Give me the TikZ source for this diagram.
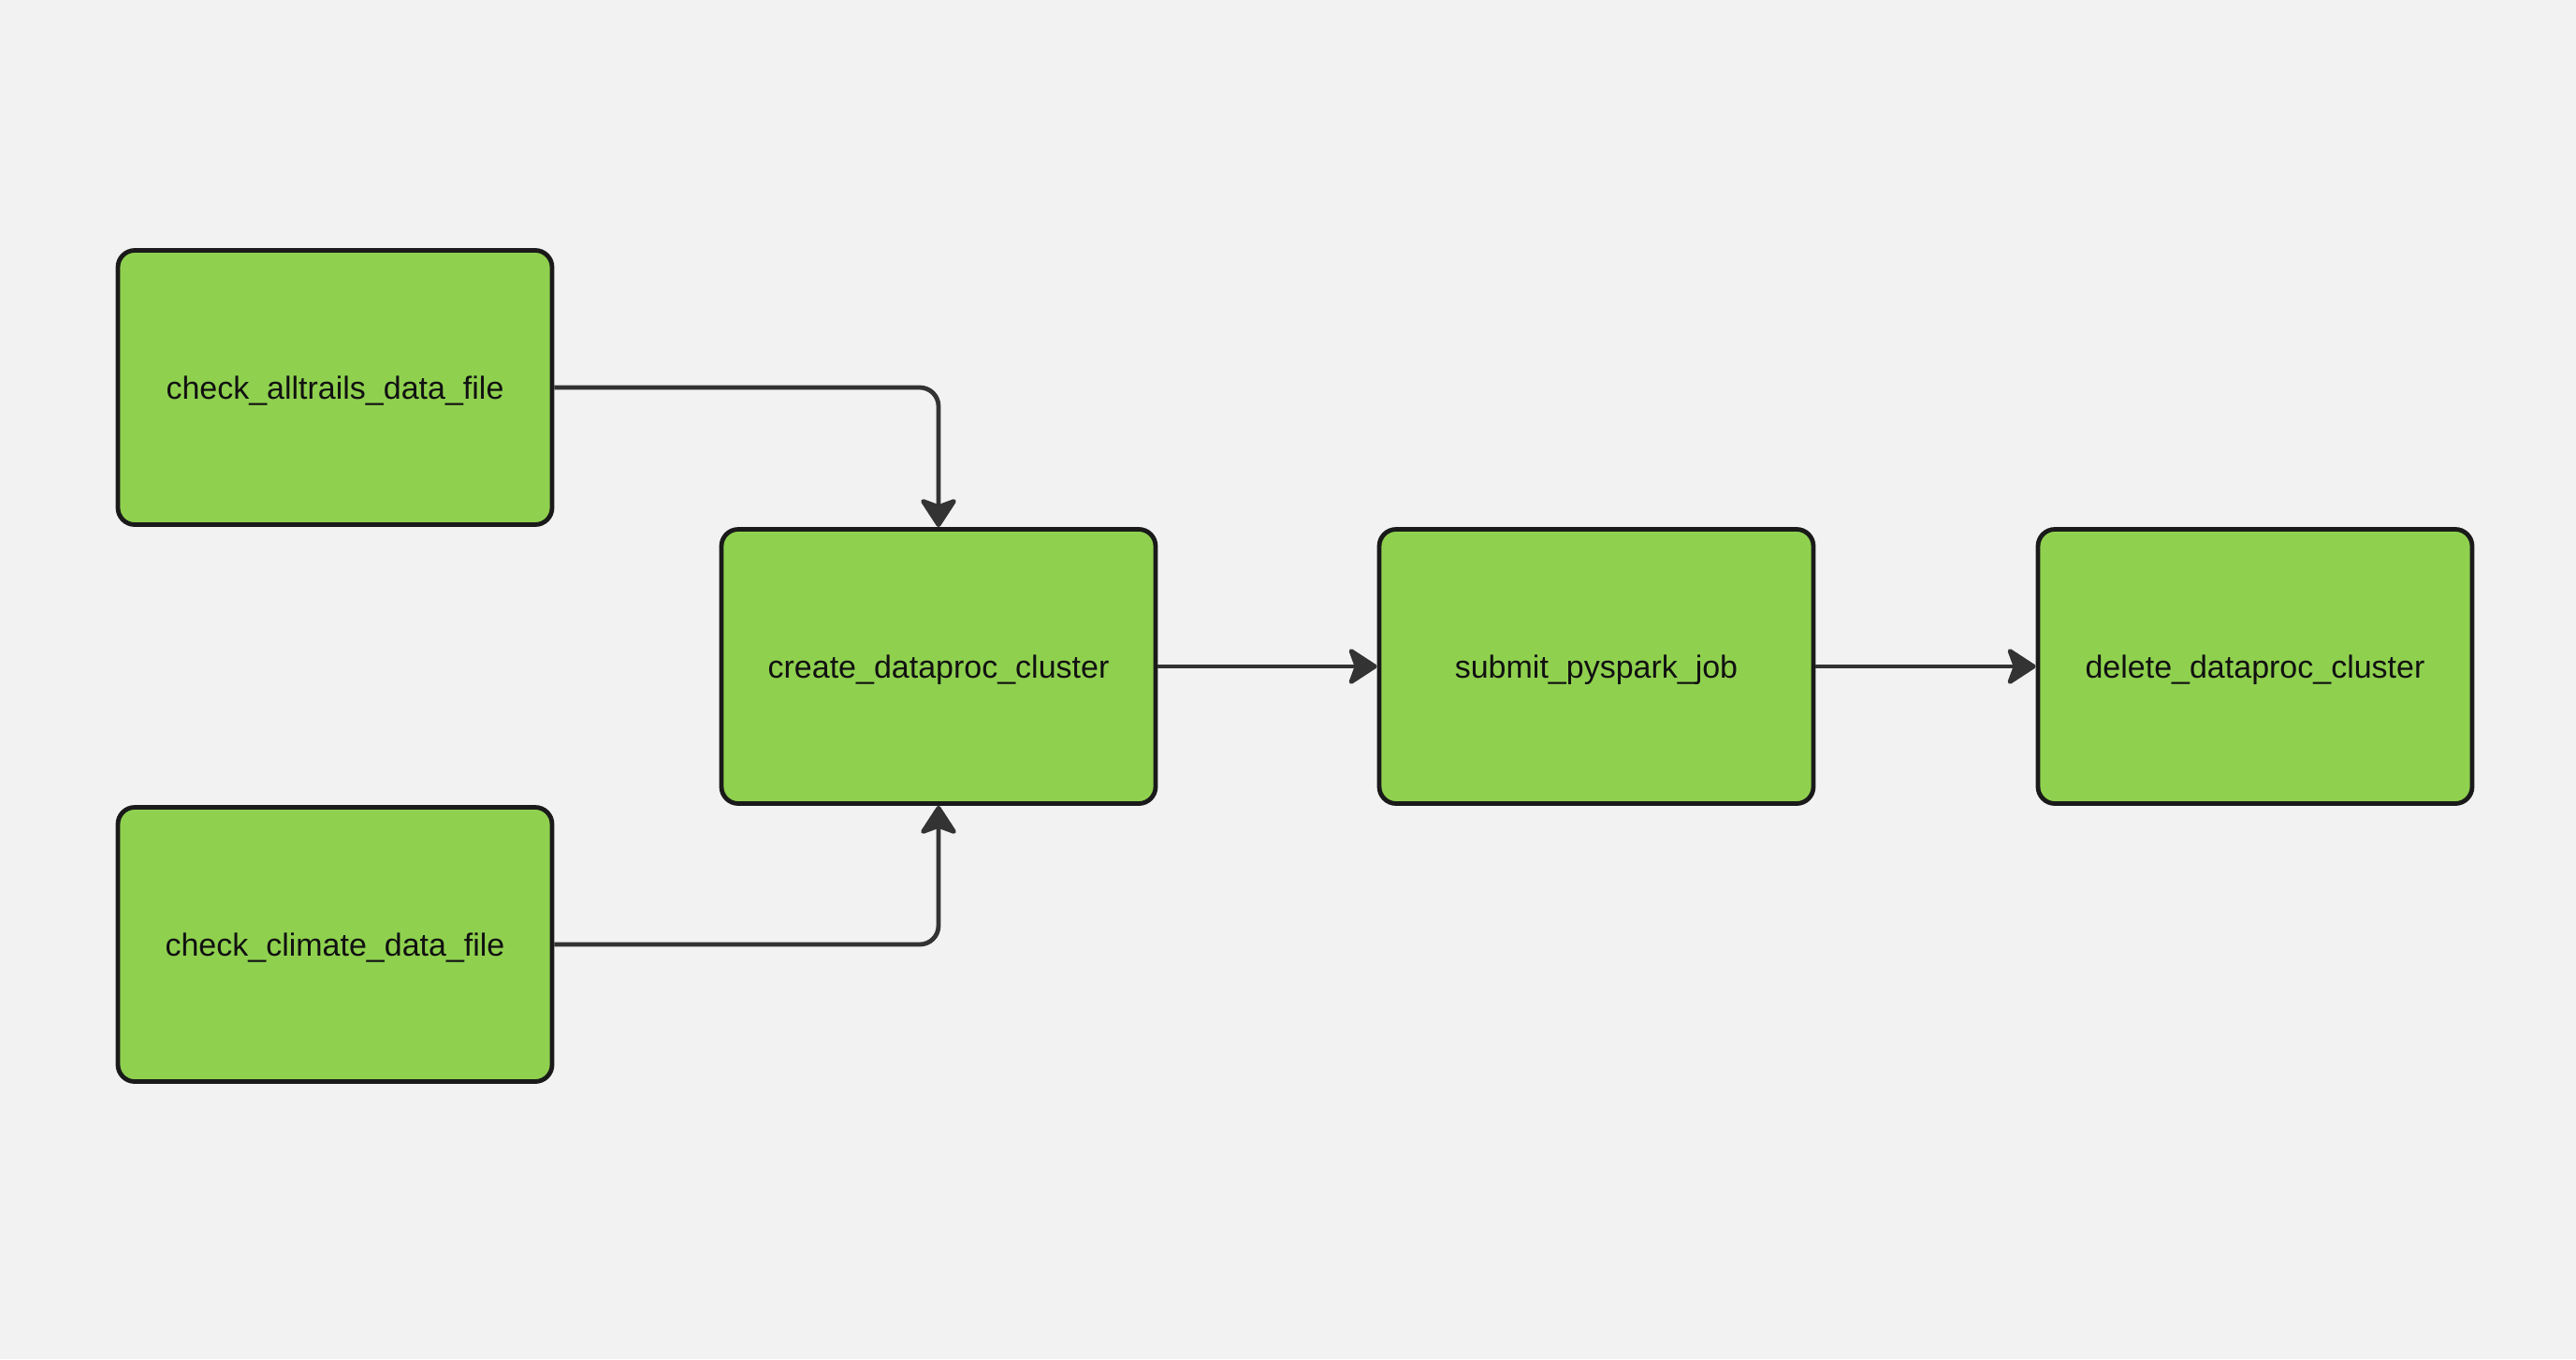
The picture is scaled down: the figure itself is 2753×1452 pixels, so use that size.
\documentclass[tikz,border=0pt]{standalone}
\usepackage{fontspec}
\setmainfont{Liberation Sans}
\usetikzlibrary{arrows.meta}
\definecolor{bg}{HTML}{F2F2F2}
\definecolor{boxfill}{HTML}{8FD14F}
\definecolor{boxline}{HTML}{1A1A1A}
\definecolor{edgecol}{HTML}{333333}
\definecolor{txt}{HTML}{111111}
\begin{document}
\begin{tikzpicture}[x=0.5pt,y=-0.5pt,
  task/.style={draw=boxline, fill=boxfill, line width=2.4pt, rounded corners=9pt,
    minimum width=232pt, minimum height=146.5pt, inner sep=0pt,
    text height=12pt, text depth=0pt,
    font=\fontsize{17pt}{20pt}\selectfont, text=txt},
  flow/.style={draw=edgecol, line width=2.4pt, rounded corners=10pt,
    -{Stealth[length=17pt,width=22pt,inset=4pt,round]}}]
\fill[bg] (0,0) rectangle (2753,1452);
\useasboundingbox (0,0) rectangle (2753,1452);
\node[task] (A) at (358,414) {check\_alltrails\_data\_file};
\node[task] (B) at (358,1009) {check\_climate\_data\_file};
\node[task] (C) at (1003,712) {create\_dataproc\_cluster};
\node[task] (D) at (1706,712) {submit\_pyspark\_job};
\node[task] (E) at (2410,712) {delete\_dataproc\_cluster};
\draw[flow] (A.east) -| (C.north);
\draw[flow] (B.east) -| (C.south);
\draw[flow] (C.east) -- (D.west);
\draw[flow] (D.east) -- (E.west);
\end{tikzpicture}
\end{document}
